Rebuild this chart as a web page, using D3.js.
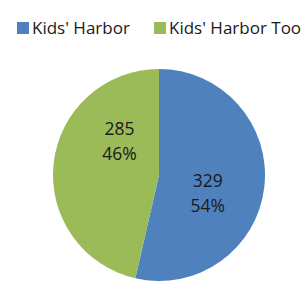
<!DOCTYPE html>
<html>
<head>
<meta charset="utf-8">
<script src="https://cdn.jsdelivr.net/npm/d3@7"></script>
<style>
  body { margin: 0; background: #fff; }
  svg { display: block; }
</style>
</head>
<body>
<div id="vis"></div>
<script>
// chart values
var categories = ["Kids' Harbor", "Kids' Harbor Too"];
var values = [329, 285];
var colors = ["#4F81BD", "#9BBB59"];
// label nudges (degrees added to each slice's mid angle) to follow the reference placement
var labelShift = [14, 34];

var width = 305, height = 281;
var cx = 159, cy = 175, radius = 106;
var font = "'Open Sans', 'DejaVu Sans', sans-serif";

var svg = d3.select("#vis").append("svg")
  .attr("width", width)
  .attr("height", height);

var data = categories.map((c, i) => ({ name: c, value: values[i], color: colors[i], shift: labelShift[i] }));
var total = d3.sum(values);

var pie = d3.pie().sort(null).value(d => d.value);
var arc = d3.arc().innerRadius(0).outerRadius(radius);

var g = svg.append("g").attr("transform", `translate(${cx}, ${cy})`);

var arcs = pie(data);

g.selectAll("path")
  .data(arcs)
  .enter()
  .append("path")
  .attr("d", arc)
  .attr("fill", d => d.data.color);

// data labels: value + percentage
var labelArc = d3.arc().innerRadius(0).outerRadius(104);
var labels = g.selectAll("text.lbl")
  .data(arcs)
  .enter()
  .append("text")
  .attr("class", "lbl")
  .attr("transform", d => {
    var mid = (d.startAngle + d.endAngle) / 2 + d.data.shift * Math.PI / 180;
    var c = labelArc.centroid({ startAngle: mid, endAngle: mid });
    return `translate(${c[0]}, ${c[1]})`;
  })
  .attr("text-anchor", "middle")
  .style("font-family", font)
  .style("font-size", "17.5px")
  .attr("fill", "#1a1a1a");

labels.append("tspan").attr("x", 0).attr("y", -6).text(d => d.data.value);
labels.append("tspan").attr("x", 0).attr("y", 19).text(d => Math.round(d.data.value / total * 100) + "%");

// legend
var legendX = [17, 154];
var legend = svg.selectAll("g.leg")
  .data(data)
  .enter()
  .append("g")
  .attr("class", "leg")
  .attr("transform", (d, i) => `translate(${legendX[i]}, 21)`);

legend.append("rect")
  .attr("width", 12)
  .attr("height", 12)
  .attr("y", 1)
  .attr("fill", d => d.color);

legend.append("text")
  .attr("x", 15)
  .attr("y", 12.5)
  .style("font-family", font)
  .style("font-size", "17px")
  .attr("fill", "#1a1a1a")
  .text(d => d.name);
</script>
</body>
</html>
